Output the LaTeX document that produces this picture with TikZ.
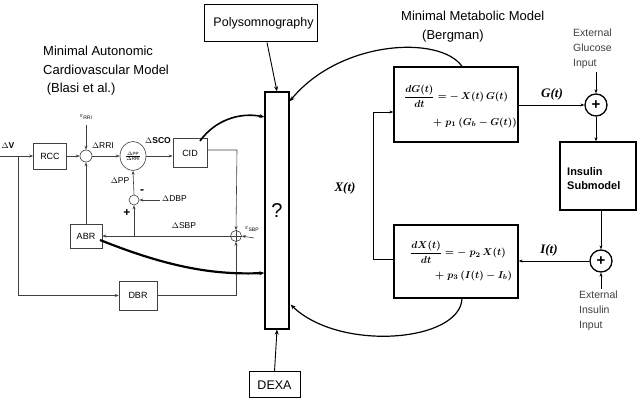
\documentclass[tikz,border=0pt]{standalone}
\usepackage{fontspec}
\setmainfont{Liberation Sans}
\newfontfamily\serf{Liberation Serif}
\usetikzlibrary{arrows.meta,shapes.geometric}
\begin{document}
\begin{tikzpicture}[x=1pt,y=-1pt,
  lline/.style={draw=black!75, line width=0.6pt},
  rline/.style={draw=black, line width=0.9pt},
  arr/.style={-{Stealth[length=4pt,width=3pt]}},
  tarr/.style={-{Stealth[length=5pt,width=4pt]}},
  lbox/.style={draw=black!75, line width=0.7pt, inner sep=0pt, font=\fontsize{9}{10}\selectfont},
  rbox/.style={draw=black, line width=1.3pt, inner sep=0pt},
  sumc/.style={circle, draw=black!75, line width=0.6pt, inner sep=0pt, minimum size=#1},
  pluc/.style={circle, draw=black, line width=1.3pt, inner sep=0pt, minimum size=22pt, font=\fontsize{15}{15}\selectfont\bfseries},
  slab/.style={font=\fontsize{8.5}{9}\selectfont, inner sep=0pt},
  siglab/.style={font=\fontsize{13}{14}\selectfont\serf\bfseries\itshape, inner sep=0pt},
  ext/.style={font=\fontsize{10.5}{15}\selectfont, text=black!75, align=left, inner sep=0pt},
  ttl/.style={font=\fontsize{13}{18.5}\selectfont, align=left, inner sep=0pt},
  eqn/.style={anchor=west, inner sep=0pt, font=\fontsize{10.2}{12}\selectfont\boldmath}
]
\useasboundingbox[fill=white] (0,0) rectangle (641,403);

% ---------- titles ----------
\node[ttl, anchor=north west] (ttlA) at (43,46) {Minimal Autonomic\\Cardiovascular Model\\\ (Blasi et al.)};
\node[ttl, anchor=north west] (ttlB) at (401,11) {Minimal Metabolic Model\\\hspace*{21pt}(Bergman)};

% ---------- central boxes ----------
\node[rbox, line width=1.3pt, minimum width=24pt, minimum height=237pt, font=\fontsize{20}{20}\selectfont] (mid) at (277,210.5) {?};
\node[rbox, line width=1pt, minimum width=113pt, minimum height=37pt, font=\fontsize{12.5}{13}\selectfont] (poly) at (260.5,23.5) {\hspace*{6pt}Polysomnography};
\node[rbox, line width=1pt, minimum width=51pt, minimum height=26pt, font=\fontsize{12.5}{13}\selectfont] (dexa) at (274.5,385) {DEXA};

\draw[rline, tarr] ([xshift=6.5pt]poly.south) -- (mid.north);
\draw[rline, tarr] (dexa.north) -- (mid.south);

% ---------- right: metabolic model ----------
\node[rbox, minimum width=124pt, minimum height=75pt] (gbox) at (456,104.5) {};
\node[rbox, minimum width=124pt, minimum height=73pt] (xbox) at (456,261.5) {};
\node[eqn] (geq1) at (404,96) {$\displaystyle\frac{dG(t)}{dt}=-\,X(t)\,G(t)$};
\node[eqn] (geq2) at (433,123) {$+\;p_1\,(G_b-G(t))$};
\node[eqn] (xeq1) at (410,252) {$\displaystyle\frac{dX(t)}{dt}=-\;p_2\,X(t)$};
\node[eqn] (xeq2) at (435,276) {$+\;p_3\,(I(t)-I_b)$};

\node[rbox, minimum width=76pt, minimum height=68pt] (insb) at (598,176) {};
\node[anchor=west, inner sep=0pt, font=\fontsize{11}{14}\selectfont\bfseries, align=left] (insbt) at (567,179) {Insulin\\Submodel};

\node[pluc] (pg) at (596,105) {+};
\node[pluc] (pi) at (601,261) {+};

\node[ext, anchor=north west] (eglu) at (573,29) {External\\Glucose\\Input};
\node[ext, anchor=north west] (eins) at (579,291) {External\\Insulin\\Input};
\coordinate (eg) at (596,72);
\coordinate (ei) at (601,289);

\draw[rline, arr] (eg) -- (pg.north);
\draw[rline, arr] (ei) -- (pi.south);
\draw[rline, arr] (gbox.east |- pg) -- (pg.west);
\node[siglab] (gt) at (552,94) {G(t)};
\draw[rline, arr] (pg.south) -- (pg |- insb.north);
\draw[rline, arr] (pi |- insb.south) -- (pi.north);
\draw[rline, arr] (pi.west) -- (xbox.east |- pi);
\node[siglab] (it) at (549,250) {I(t)};

\coordinate (fbb) at (373,259);
\coordinate (fbt) at (373,112);
\draw[rline, arr] (xbox.west |- fbb) -- (fbb) -- (fbt) -- (gbox.west |- fbt);
\node[siglab] (xt) at (345,188) {X(t)};

\draw[line width=1.2pt, tarr] ([xshift=6pt]gbox.north) .. controls (440,35) and (340,40) .. ([yshift=-10pt]mid.north east);
\draw[line width=1.2pt, tarr] ([xshift=6pt]xbox.south) .. controls (460,342) and (340,352) .. ([xshift=1pt,yshift=25pt]mid.south east);

% ---------- left: cardiovascular model ----------
\node[lbox, minimum width=33pt, minimum height=26pt] (rcc) at (50,156) {RCC};
\node[sumc=12pt] (s1) at (86,156) {};
\node[ellipse, draw=black!75, line width=0.6pt, inner sep=0pt, minimum width=26pt, minimum height=29pt, font=\fontsize{6.5}{7}\selectfont] (ell) at (133,156) {$\frac{\Delta \mathrm{PP}}{\Delta \mathrm{RRI}}$};
\node[lbox, minimum width=34pt, minimum height=29pt] (cid) at (190,153) {CID};
\node[sumc=10pt] (s2) at (134,200) {};
\node[lbox, minimum width=32pt, minimum height=24pt] (abr) at (86,236) {ABR};
\node[sumc=11pt] (sbp) at (236,236) {};
\draw[black!75, line width=0.6pt] (sbp.north) -- (sbp.south) (sbp.west) -- (sbp.east);
\node[lbox, minimum width=38pt, minimum height=29pt] (dbr) at (138,295.5) {DBR};

\coordinate (vin) at (0,156);
\coordinate (vbr) at (18,156);
\coordinate (vbt) at (18,295.5);
\node[slab, font=\fontsize{8.5}{9}\selectfont\bfseries] (dv) at (8,146) {$\Delta$V};
\draw[lline, arr] (vin) -- (rcc.west);
\draw[lline, arr] (vbr) -- (vbt) -- (dbr.west);
\draw[lline, arr] (rcc.east) -- (s1.west);
\coordinate (erri) at (86,125);
\node[slab, font=\fontsize{7}{7}\selectfont] (errl) at (86,117) {$\varepsilon_{\mathrm{RRI}}$};
\draw[lline, arr] (erri) -- (s1.north);
\draw[lline, arr] (s1.east) -- (ell.west);
\node[slab] (drri) at (103,146) {$\Delta$RRI};
\draw[lline, arr] (ell.east) -- (cid.west |- ell);
\node[slab, font=\fontsize{8.5}{9}\selectfont\bfseries] (dsco) at (158,141) {$\Delta$SCO};
\coordinate (cr) at (237,150);
\draw[lline, arr] (cid.east |- cr) -- (cr) -- (sbp.north);
\draw[lline, arr] (sbp.west) -- (abr.east);
\node[slab] (dsbp) at (184,226) {$\Delta$SBP};
\coordinate (jn) at (134,236);
\draw[lline, arr] (jn) -- (s2.south);
\node[inner sep=0pt, font=\fontsize{12}{12}\selectfont\bfseries] (plus) at (127,213) {+};
\node[inner sep=0pt, font=\fontsize{12}{12}\selectfont\bfseries] (minus) at (142,192) {-};
\coordinate (dbpc) at (160,200);
\draw[lline, arr] (dbpc) -- (s2.east);
\node[slab, anchor=west] (ddbp) at (162,199) {$\Delta$DBP};
\draw[lline, arr] (s2.north) -- (ell.south);
\node[slab] (dpp) at (120,181) {$\Delta$PP};
\draw[lline, arr] (abr.north) -- (s1.south);
\coordinate (dbrr) at (236,295.5);
\draw[lline, arr] (dbr.east) -- (dbrr) -- (sbp.south);
\coordinate (esb) at (254,238);
\draw[lline, arr] (esb) -- (sbp.east);
\node[slab, font=\fontsize{7}{7}\selectfont] (esbl) at (252,229) {$\varepsilon_{\mathrm{SBP}}$};

\draw[line width=2.2pt, tarr] (100,240) .. controls (170,268) and (215,275) .. ([yshift=-62.5pt]mid.west);
\draw[line width=1.6pt, tarr] (200,141) .. controls (215,120) and (240,112) .. ([yshift=93.5pt]mid.west);
\end{tikzpicture}
\end{document}
